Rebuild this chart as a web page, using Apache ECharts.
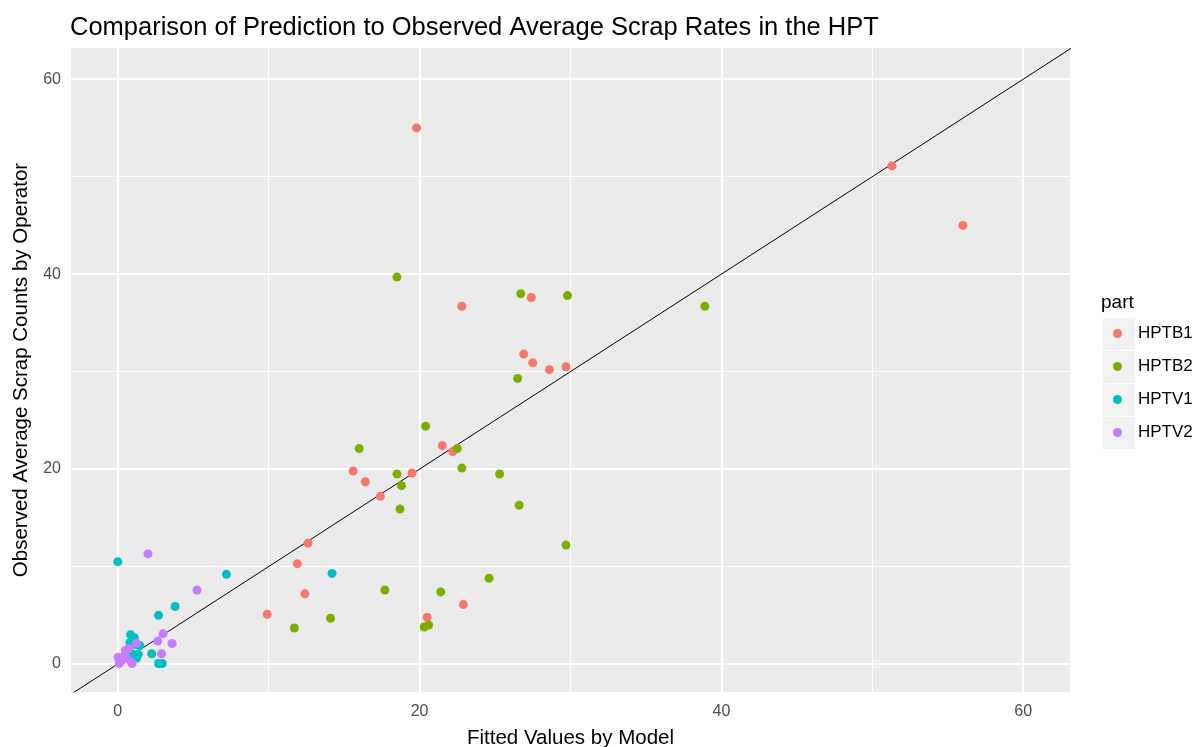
<!DOCTYPE html>
<html>
<head>
<meta charset="utf-8">
<script src="https://cdn.jsdelivr.net/npm/echarts@6/dist/echarts.min.js"></script>
<style>
  html, body { margin: 0; padding: 0; background: #fff; }
  #main { width: 1195px; height: 747px; }
</style>
</head>
<body>
<div id="main"></div>
<script>
// fitted (x) vs observed (y), one array per part
var hptb1 = [[19.8,55.0],[51.3,51.1],[56.0,45.0],[22.8,36.7],[27.4,37.6],[26.9,31.8],[27.5,30.9],
  [28.6,30.2],[29.7,30.5],[21.5,22.4],[22.2,21.8],[15.6,19.8],[16.4,18.7],[17.4,17.2],[19.5,19.6],
  [12.6,12.4],[11.9,10.3],[12.4,7.2],[9.9,5.1],[20.5,4.8],[22.9,6.1]];
var hptb2 = [[18.5,39.7],[26.7,38.0],[29.8,37.8],[38.9,36.7],[26.5,29.3],[20.4,24.4],[16.0,22.1],
  [22.5,22.1],[18.5,19.5],[18.8,18.3],[18.7,15.9],[22.8,20.1],[25.3,19.5],[26.6,16.3],[29.7,12.2],
  [24.6,8.8],[21.4,7.4],[17.7,7.6],[14.1,4.7],[11.7,3.7],[20.3,3.8],[20.6,4.0]];
var hptv1 = [[0,10.5],[14.2,9.3],[7.2,9.2],[3.8,5.9],[2.7,5.0],[2.25,1.05],[2.7,0.05],[2.95,0.05],
  [0.85,3.0],[1.1,2.7],[0.8,2.2],[1.2,2.0],[1.45,1.9],[1.0,1.0],[1.25,0.6],[1.35,1.0]];
var hptv2 = [[2.0,11.3],[5.25,7.6],[3.0,3.1],[2.65,2.35],[3.6,2.1],[2.9,1.05],[0.95,0.05],[0.5,1.4],
  [0.75,1.6],[0.02,0.7],[0.13,0.2],[0.3,0.4],[0.57,0.6],[1.24,2.15],[0.45,0.85],[0.9,0.2],[0.1,0.05]];

var parts = ['HPTB1', 'HPTB2', 'HPTV1', 'HPTV2'];
var partColors = ['#F8766D', '#7CAE00', '#00BFC4', '#C77CFF'];
var majorTicks = [0, 20, 40, 60];
var minorTicks = [10, 30, 50];
var refLine = [[-10, -10], [80, 80]]; // y = x

var chart = echarts.init(document.getElementById('main'));

var gridLines = [];
majorTicks.forEach(function (v) {
  gridLines.push({ xAxis: v, lineStyle: { width: 2 } });
  gridLines.push({ yAxis: v, lineStyle: { width: 2 } });
});
minorTicks.forEach(function (v) {
  gridLines.push({ xAxis: v, lineStyle: { width: 1 } });
  gridLines.push({ yAxis: v, lineStyle: { width: 1 } });
});

function pointSeries(name, data, i) {
  return {
    name: name,
    type: 'scatter',
    data: data,
    symbolSize: 9,
    itemStyle: { color: partColors[i], opacity: 1 },
    z: 4
  };
}

var font = 'Liberation Sans';

var option = {
  animation: false,
  color: partColors,
  title: {
    text: 'Comparison of Prediction to Observed Average Scrap Rates in the HPT',
    left: 65, top: 10,
    textStyle: { fontFamily: font, fontSize: 25.5, fontWeight: 'normal', color: '#000' }
  },
  grid: {
    left: 71, top: 48, width: 999, height: 644,
    outerBoundsMode: 'none',
    containLabel: false,
    show: true, backgroundColor: '#EBEBEB', borderWidth: 0
  },
  legend: {
    data: parts,
    orient: 'vertical',
    left: 1108, top: 320,
    icon: 'circle',
    itemWidth: 9, itemHeight: 9,
    itemGap: 16,
    textStyle: { fontFamily: font, fontSize: 17, lineHeight: 17, color: '#000', padding: [0, 0, 0, 11] }
  },
  graphic: [
    { type: 'text', left: 1101, top: 293,
      style: { text: 'part', font: '19px "Liberation Sans"', fill: '#000' } }
  ].concat([0, 1, 2, 3].map(function (i) {
    return { type: 'rect', left: 1103, top: 318 + i * 33, z: -1,
      shape: { width: 32, height: 32 }, style: { fill: '#F2F2F2' } };
  })),
  xAxis: {
    type: 'value',
    min: -3.1, max: 63.1,
    name: 'Fitted Values by Model',
    nameLocation: 'middle', nameGap: 36,
    nameTextStyle: { fontFamily: font, fontSize: 20.5, color: '#000' },
    axisLine: { show: false },
    splitLine: { show: false },
    axisTick: { show: true, customValues: majorTicks, length: 4, lineStyle: { color: '#333' } },
    axisLabel: { customValues: majorTicks, fontFamily: font, fontSize: 16, color: '#4D4D4D', margin: 12 }
  },
  yAxis: {
    type: 'value',
    min: -2.87, max: 63.2,
    name: 'Observed Average Scrap Counts by Operator',
    nameLocation: 'middle', nameGap: 37,
    nameTextStyle: { fontFamily: font, fontSize: 20.5, color: '#000' },
    axisLine: { show: false },
    splitLine: { show: false },
    axisTick: { show: true, customValues: majorTicks, length: 4, lineStyle: { color: '#333' } },
    axisLabel: { customValues: majorTicks, fontFamily: font, fontSize: 16, color: '#4D4D4D', margin: 10 }
  },
  series: [
    {
      name: 'grid',
      type: 'line',
      data: [],
      silent: true,
      z: 1,
      markLine: {
        z: 1,
        silent: true,
        symbol: 'none',
        label: { show: false },
        animation: false,
        lineStyle: { color: '#FFFFFF', type: 'solid', width: 1 },
        data: gridLines
      }
    },
    {
      name: 'y = x',
      type: 'line',
      data: refLine,
      showSymbol: false,
      symbol: 'none',
      clip: true,
      silent: true,
      z: 2,
      lineStyle: { color: '#000', width: 1 }
    },
    pointSeries('HPTB1', hptb1, 0),
    pointSeries('HPTB2', hptb2, 1),
    pointSeries('HPTV1', hptv1, 2),
    pointSeries('HPTV2', hptv2, 3)
  ]
};

chart.setOption(option);
</script>
</body>
</html>
